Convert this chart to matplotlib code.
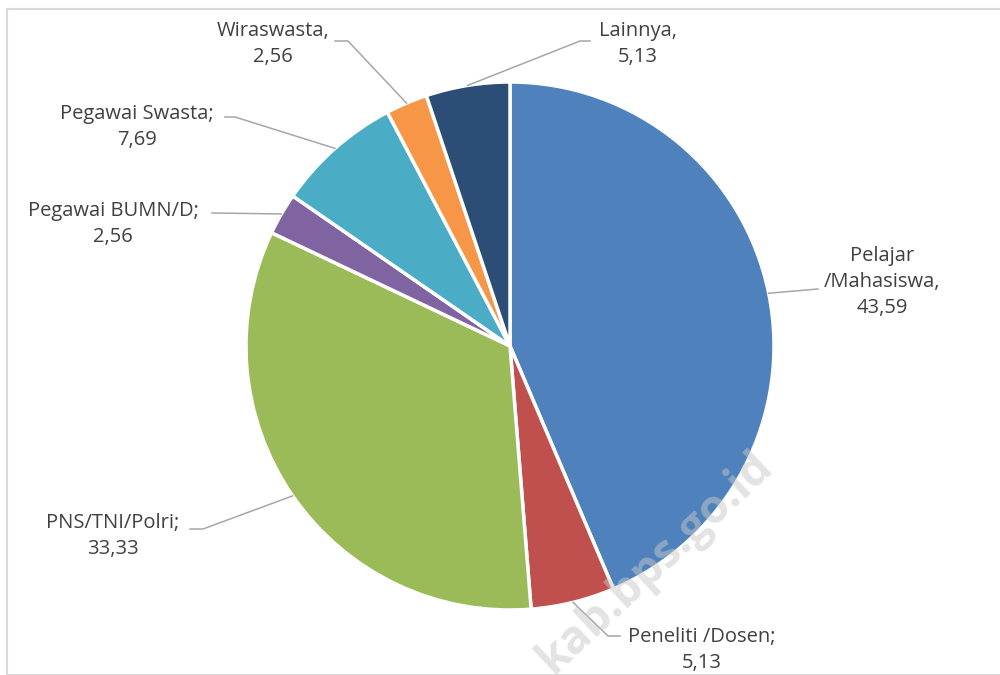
import numpy as np
import matplotlib
matplotlib.use("Agg")
import matplotlib.pyplot as plt
from matplotlib.patches import Rectangle

# Data
categories = ["Pelajar\n/Mahasiswa", "Peneliti /Dosen", "PNS/TNI/Polri",
              "Pegawai BUMN/D", "Pegawai Swasta", "Wiraswasta", "Lainnya"]
separators = [",", ";", ";", ";", ";", ",", ","]
values = [43.59, 5.13, 33.33, 2.56, 7.69, 2.56, 5.13]
colors = ["#4F81BD", "#C0504D", "#9BBB59", "#8064A2", "#4BACC6", "#F79646", "#2C4D75"]

plt.rcParams['font.family'] = ['Open Sans', 'DejaVu Sans']

W, H = 1000, 675
fig = plt.figure(figsize=(10, 6.75), dpi=100)
ax = fig.add_axes([0, 0, 1, 1])

def py(y):
    # pixel row -> data y
    return H - y

cx, cy, r = 510, py(346), 264
wedges, _ = ax.pie(values, colors=colors, startangle=90, counterclock=False,
                   center=(cx, cy), radius=r, frame=True,
                   wedgeprops=dict(edgecolor='white', linewidth=2.5))
ax.set_xlim(0, W)
ax.set_ylim(0, H)
ax.axis('off')

# label block centres and leader knee points, in pixels
label_pos = [(882, 282), (702, 650), (113, 536), (113, 224), (137, 127), (273, 44), (638, 44)]
knees = [[(818, 289)],
         [(608, 636), (620, 636)],
         [(203, 529), (190, 529)],
         [(212, 213)],
         [(235, 117), (225, 117)],
         [(348, 41), (335, 41)],
         [(580, 41), (590, 41)]]

for w, cat, sep, v, pos, kn in zip(wedges, categories, separators, values, label_pos, knees):
    mid = np.deg2rad((w.theta1 + w.theta2) / 2)
    x0, y0 = cx + r * np.cos(mid), cy + r * np.sin(mid)
    xs = [x0] + [k[0] for k in kn]
    ys = [y0] + [py(k[1]) for k in kn]
    ax.plot(xs, ys, color='#A6A6A6', lw=1.1, zorder=3)
    txt = f"{cat}{sep}\n" + f"{v:.2f}".replace('.', ',')
    ax.text(pos[0], py(pos[1]), txt, ha='center', va='center', multialignment='center',
            fontsize=14.5, color='#404040', linespacing=1.42, zorder=4)

# watermark
ax.text(655, py(563), "kab.bps.go.id", rotation=43, fontsize=33, fontweight='bold',
        color='#C8C8C8', alpha=0.5, ha='center', va='center', zorder=5)

# chart border
fig.patches.append(Rectangle((7 / W, 0), 1.2, 1 - 9 / H, transform=fig.transFigure,
                             fill=False, edgecolor='#D9D9D9', lw=1.5))

fig.savefig("out.png", dpi=100)
